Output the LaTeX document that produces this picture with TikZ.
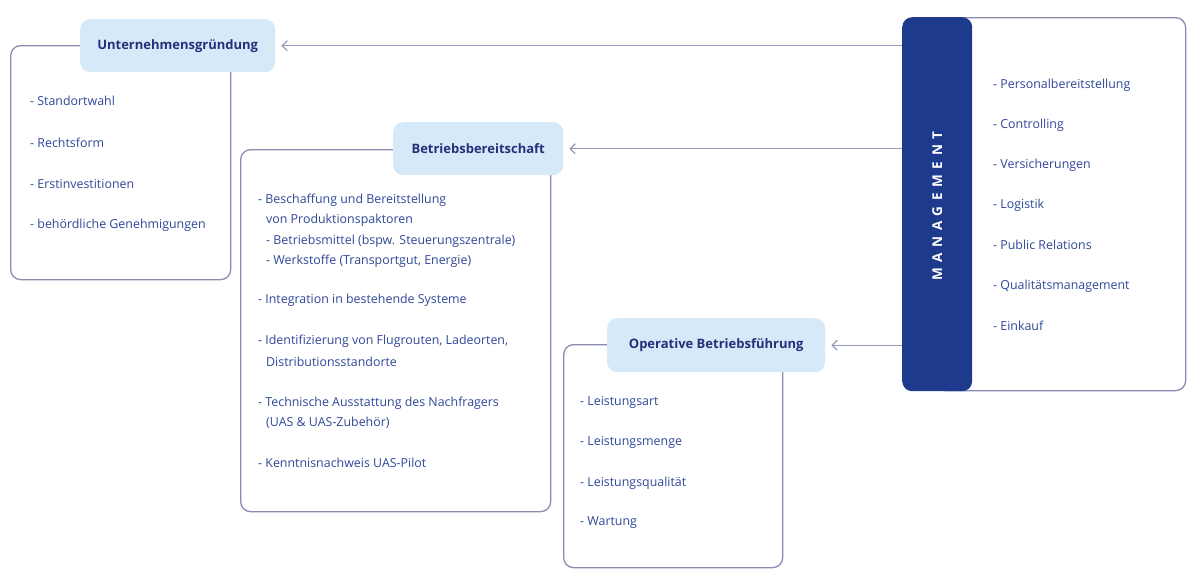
\documentclass[tikz,border=0pt]{standalone}
\usepackage{fontspec}
\setmainfont{Open Sans}
\usetikzlibrary{arrows.meta}
\definecolor{navy}{RGB}{30,58,140}
\definecolor{headfill}{RGB}{214,233,248}
\definecolor{headtext}{RGB}{36,48,122}
\definecolor{itemtext}{RGB}{48,72,152}
\definecolor{framecol}{RGB}{135,140,176}
\definecolor{linkcol}{RGB}{150,156,190}
\tikzset{
  frame/.style={draw=framecol, line width=1.3pt, rounded corners=10pt, fill=white, anchor=north west, inner sep=0pt},
  header/.style={fill=headfill, rounded corners=10pt, anchor=north west, inner sep=0pt},
  headlabel/.style={text=headtext, font=\fontsize{13}{15}\selectfont\bfseries},
  item/.style={anchor=west, text=itemtext, font=\fontsize{12.4}{14}\selectfont, inner sep=0pt, align=left},
  link/.style={draw=linkcol, line width=1.2pt, -{Straight Barb[length=5pt,width=10pt]}, shorten >=6pt},
}
\begin{document}
\begin{tikzpicture}[x=1pt,y=-1pt]
\useasboundingbox (0,0) rectangle (1187,570);

% content frames
\node (f1) [frame, minimum width=220pt, minimum height=234pt] at (10,45) {};
\node (f2) [frame, minimum width=310pt, minimum height=362pt] at (240,149) {};
\node (f3) [frame, minimum width=219pt, minimum height=223pt] at (563,344) {};
\node (f4) [frame, minimum width=250pt, minimum height=373pt] at (935,17) {};

% headers
\node (h1) [header, minimum width=195pt, minimum height=53pt] at (80,19) {};
\node (h1t) at (h1.center) [headlabel] {Unternehmensgründung};
\node (h2) [header, minimum width=170pt, minimum height=53pt] at (393,122) {};
\node (h2t) at (h2.center) [headlabel] {Betriebsbereitschaft};
\node (h3) [header, minimum width=218pt, minimum height=54pt] at (607,318) {};
\node (h3t) at (h3.center) [headlabel] {Operative Betriebsführung};

% management bar
\node (m) [fill=navy, rounded corners=10pt, anchor=north west, inner sep=0pt, minimum width=70pt, minimum height=374pt] at (902,17) {};
\node (mt) at ([yshift=-2pt]m.center) [rotate=90, text=white, font=\fontsize{13.5}{15}\selectfont\bfseries\addfontfeature{LetterSpace=42}] {MANAGEMENT};

% links
\draw[link] (m.west |- h1.east) -- (h1.east);
\draw[link] (m.west |- h2.east) -- (h2.east);
\draw[link] (m.west |- h3.east) -- (h3.east);

% Unternehmensgründung
\node (u1) [item] at (30,101) {- Standortwahl};
\node (u2) [item] at (30,143) {- Rechtsform};
\node (u3) [item] at (30,184) {- Erstinvestitionen};
\node (u4) [item] at (30,225) {- behördliche Genehmigungen};

% Betriebsbereitschaft
\node (b1) [item] at (258,200) {- Beschaffung und Bereitstellung};
\node (b1a) [item] at (266,220) {von Produktionspaktoren};
\node (b1b) [item] at (266,241) {- Betriebsmittel (bspw. Steuerungszentrale)};
\node (b1c) [item] at (266,261) {- Werkstoffe (Transportgut, Energie)};
\node (b2) [item] at (258,300) {- Integration in bestehende Systeme};
\node (b3) [item] at (258,341) {- Identifizierung von Flugrouten, Ladeorten,};
\node (b3a) [item] at (266,362) {Distributionsstandorte};
\node (b4) [item] at (258,403) {- Technische Ausstattung des Nachfragers};
\node (b4a) [item] at (266,423) {(UAS \& UAS-Zubehör)};
\node (b5) [item] at (258,463) {- Kenntnisnachweis UAS-Pilot};

% Operative Betriebsführung
\node (o1) [item] at (580,402) {- Leistungsart};
\node (o2) [item] at (580,442) {- Leistungsmenge};
\node (o3) [item] at (580,483) {- Leistungsqualität};
\node (o4) [item] at (580,523) {- Wartung};

% Management tasks
\node (p1) [item] at (993,85) {- Personalbereitstellung};
\node (p2) [item] at (993,125) {- Controlling};
\node (p3) [item] at (993,165) {- Versicherungen};
\node (p4) [item] at (993,205) {- Logistik};
\node (p5) [item] at (993,245) {- Public Relations};
\node (p6) [item] at (993,286) {- Qualitätsmanagement};
\node (p7) [item] at (993,326) {- Einkauf};
\end{tikzpicture}
\end{document}
